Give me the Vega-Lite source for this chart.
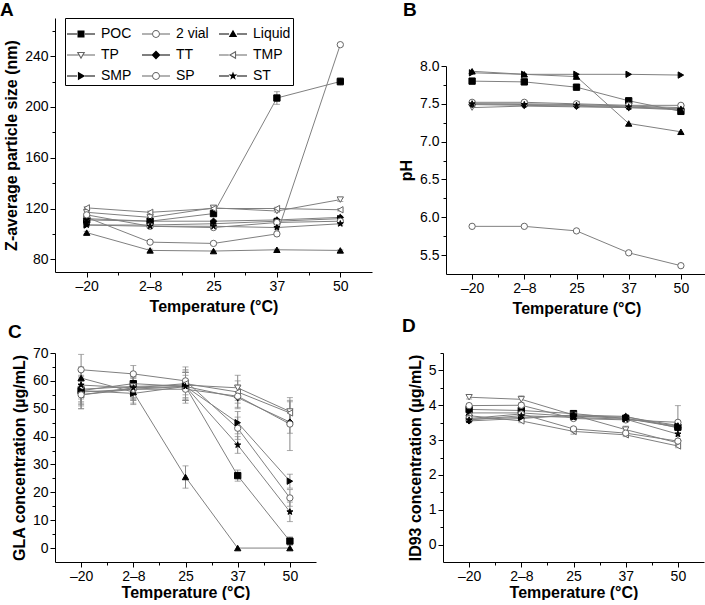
{
  "$schema": "https://vega.github.io/schema/vega-lite/v6.json",
  "padding": {"left": 0, "top": 0, "right": 0, "bottom": 0},
  "background": "white",
  "config": {
    "view": {"stroke": null},
    "font": "Liberation Sans",
    "axis": {"domainColor": "black", "tickColor": "black", "labelColor": "black", "titleColor": "black", "labelFontSize": 14, "titleFontSize": 16, "titleFontWeight": "bold", "grid": false, "labelFont": "Liberation Sans", "titleFont": "Liberation Sans", "domainWidth": 1, "tickWidth": 1, "labelFlush": false, "labelOverlap": false, "labelPadding": 2, "titlePadding": 5},
    "title": {"font": "Liberation Sans", "fontSize": 19, "fontWeight": "bold", "color": "black", "anchor": "start", "frame": "group", "baseline": "alphabetic"}
  },
  "datasets": {
    "d": [
      {"panel":"A","series":"POC","temp":"–20","value":111,"err":1},
      {"panel":"A","series":"POC","temp":"2–8","value":110,"err":1.5},
      {"panel":"A","series":"POC","temp":"25","value":116,"err":2},
      {"panel":"A","series":"POC","temp":"37","value":207,"err":5},
      {"panel":"A","series":"POC","temp":"50","value":220,"err":3},
      {"panel":"A","series":"2 vial","temp":"–20","value":113,"err":1},
      {"panel":"A","series":"2 vial","temp":"2–8","value":93.5,"err":1},
      {"panel":"A","series":"2 vial","temp":"25","value":92.5,"err":1},
      {"panel":"A","series":"2 vial","temp":"37","value":100,"err":1.5},
      {"panel":"A","series":"2 vial","temp":"50","value":249,"err":1},
      {"panel":"A","series":"Liquid","temp":"–20","value":101,"err":1},
      {"panel":"A","series":"Liquid","temp":"2–8","value":87,"err":1},
      {"panel":"A","series":"Liquid","temp":"25","value":86.5,"err":0.5},
      {"panel":"A","series":"Liquid","temp":"37","value":87.5,"err":0.5},
      {"panel":"A","series":"Liquid","temp":"50","value":87,"err":0.5},
      {"panel":"A","series":"TP","temp":"–20","value":117,"err":1},
      {"panel":"A","series":"TP","temp":"2–8","value":113,"err":1},
      {"panel":"A","series":"TP","temp":"25","value":120.5,"err":1},
      {"panel":"A","series":"TP","temp":"37","value":118,"err":1},
      {"panel":"A","series":"TP","temp":"50","value":127,"err":1.5},
      {"panel":"A","series":"TT","temp":"–20","value":112,"err":1},
      {"panel":"A","series":"TT","temp":"2–8","value":110,"err":1},
      {"panel":"A","series":"TT","temp":"25","value":110,"err":1},
      {"panel":"A","series":"TT","temp":"37","value":111,"err":1},
      {"panel":"A","series":"TT","temp":"50","value":113,"err":1},
      {"panel":"A","series":"TMP","temp":"–20","value":120.5,"err":1},
      {"panel":"A","series":"TMP","temp":"2–8","value":117,"err":1},
      {"panel":"A","series":"TMP","temp":"25","value":120,"err":1},
      {"panel":"A","series":"TMP","temp":"37","value":120,"err":1},
      {"panel":"A","series":"TMP","temp":"50","value":119,"err":1},
      {"panel":"A","series":"SMP","temp":"–20","value":107,"err":1},
      {"panel":"A","series":"SMP","temp":"2–8","value":107,"err":1},
      {"panel":"A","series":"SMP","temp":"25","value":108,"err":1},
      {"panel":"A","series":"SMP","temp":"37","value":110,"err":1},
      {"panel":"A","series":"SMP","temp":"50","value":112,"err":1},
      {"panel":"A","series":"SP","temp":"–20","value":115,"err":1},
      {"panel":"A","series":"SP","temp":"2–8","value":106,"err":1},
      {"panel":"A","series":"SP","temp":"25","value":105,"err":1},
      {"panel":"A","series":"SP","temp":"37","value":109,"err":1},
      {"panel":"A","series":"SP","temp":"50","value":110,"err":1},
      {"panel":"A","series":"ST","temp":"–20","value":107,"err":1},
      {"panel":"A","series":"ST","temp":"2–8","value":106,"err":1},
      {"panel":"A","series":"ST","temp":"25","value":106,"err":1},
      {"panel":"A","series":"ST","temp":"37","value":105,"err":1},
      {"panel":"A","series":"ST","temp":"50","value":108,"err":1},

      {"panel":"B","series":"POC","temp":"–20","value":7.80,"err":0},
      {"panel":"B","series":"POC","temp":"2–8","value":7.79,"err":0},
      {"panel":"B","series":"POC","temp":"25","value":7.72,"err":0},
      {"panel":"B","series":"POC","temp":"37","value":7.54,"err":0},
      {"panel":"B","series":"POC","temp":"50","value":7.40,"err":0},
      {"panel":"B","series":"2 vial","temp":"–20","value":5.88,"err":0},
      {"panel":"B","series":"2 vial","temp":"2–8","value":5.88,"err":0},
      {"panel":"B","series":"2 vial","temp":"25","value":5.82,"err":0},
      {"panel":"B","series":"2 vial","temp":"37","value":5.53,"err":0},
      {"panel":"B","series":"2 vial","temp":"50","value":5.36,"err":0},
      {"panel":"B","series":"Liquid","temp":"–20","value":7.93,"err":0},
      {"panel":"B","series":"Liquid","temp":"2–8","value":7.89,"err":0},
      {"panel":"B","series":"Liquid","temp":"25","value":7.86,"err":0},
      {"panel":"B","series":"Liquid","temp":"37","value":7.24,"err":0},
      {"panel":"B","series":"Liquid","temp":"50","value":7.13,"err":0},
      {"panel":"B","series":"TP","temp":"–20","value":7.45,"err":0},
      {"panel":"B","series":"TP","temp":"2–8","value":7.47,"err":0},
      {"panel":"B","series":"TP","temp":"25","value":7.46,"err":0},
      {"panel":"B","series":"TP","temp":"37","value":7.45,"err":0},
      {"panel":"B","series":"TP","temp":"50","value":7.44,"err":0},
      {"panel":"B","series":"TT","temp":"–20","value":7.49,"err":0},
      {"panel":"B","series":"TT","temp":"2–8","value":7.48,"err":0},
      {"panel":"B","series":"TT","temp":"25","value":7.47,"err":0},
      {"panel":"B","series":"TT","temp":"37","value":7.45,"err":0},
      {"panel":"B","series":"TT","temp":"50","value":7.42,"err":0},
      {"panel":"B","series":"TMP","temp":"–20","value":7.50,"err":0},
      {"panel":"B","series":"TMP","temp":"2–8","value":7.50,"err":0},
      {"panel":"B","series":"TMP","temp":"25","value":7.49,"err":0},
      {"panel":"B","series":"TMP","temp":"37","value":7.47,"err":0},
      {"panel":"B","series":"TMP","temp":"50","value":7.45,"err":0},
      {"panel":"B","series":"SMP","temp":"–20","value":7.91,"err":0},
      {"panel":"B","series":"SMP","temp":"2–8","value":7.89,"err":0},
      {"panel":"B","series":"SMP","temp":"25","value":7.89,"err":0},
      {"panel":"B","series":"SMP","temp":"37","value":7.89,"err":0},
      {"panel":"B","series":"SMP","temp":"50","value":7.88,"err":0},
      {"panel":"B","series":"SP","temp":"–20","value":7.52,"err":0},
      {"panel":"B","series":"SP","temp":"2–8","value":7.52,"err":0},
      {"panel":"B","series":"SP","temp":"25","value":7.50,"err":0},
      {"panel":"B","series":"SP","temp":"37","value":7.48,"err":0},
      {"panel":"B","series":"SP","temp":"50","value":7.48,"err":0},
      {"panel":"B","series":"ST","temp":"–20","value":7.50,"err":0},
      {"panel":"B","series":"ST","temp":"2–8","value":7.49,"err":0},
      {"panel":"B","series":"ST","temp":"25","value":7.48,"err":0},
      {"panel":"B","series":"ST","temp":"37","value":7.46,"err":0},
      {"panel":"B","series":"ST","temp":"50","value":7.43,"err":0},

      {"panel":"C","series":"POC","temp":"–20","value":56.5,"err":4},
      {"panel":"C","series":"POC","temp":"2–8","value":59,"err":4},
      {"panel":"C","series":"POC","temp":"25","value":58,"err":5},
      {"panel":"C","series":"POC","temp":"37","value":26,"err":2},
      {"panel":"C","series":"POC","temp":"50","value":2.5,"err":1.5},
      {"panel":"C","series":"2 vial","temp":"–20","value":64,"err":5.5},
      {"panel":"C","series":"2 vial","temp":"2–8","value":62.5,"err":3},
      {"panel":"C","series":"2 vial","temp":"25","value":60,"err":5},
      {"panel":"C","series":"2 vial","temp":"37","value":43,"err":4},
      {"panel":"C","series":"2 vial","temp":"50","value":18,"err":3},
      {"panel":"C","series":"Liquid","temp":"–20","value":61,"err":4},
      {"panel":"C","series":"Liquid","temp":"2–8","value":56,"err":4},
      {"panel":"C","series":"Liquid","temp":"25","value":25.5,"err":4},
      {"panel":"C","series":"Liquid","temp":"37","value":0,"err":0},
      {"panel":"C","series":"Liquid","temp":"50","value":0,"err":0},
      {"panel":"C","series":"TP","temp":"–20","value":57,"err":5},
      {"panel":"C","series":"TP","temp":"2–8","value":58,"err":4},
      {"panel":"C","series":"TP","temp":"25","value":58.5,"err":5},
      {"panel":"C","series":"TP","temp":"37","value":57.5,"err":4.5},
      {"panel":"C","series":"TP","temp":"50","value":49,"err":4},
      {"panel":"C","series":"TT","temp":"–20","value":56,"err":5},
      {"panel":"C","series":"TT","temp":"2–8","value":57,"err":4},
      {"panel":"C","series":"TT","temp":"25","value":58,"err":5},
      {"panel":"C","series":"TT","temp":"37","value":54,"err":4},
      {"panel":"C","series":"TT","temp":"50","value":45.2,"err":4},
      {"panel":"C","series":"TMP","temp":"–20","value":55,"err":5},
      {"panel":"C","series":"TMP","temp":"2–8","value":57.5,"err":4},
      {"panel":"C","series":"TMP","temp":"25","value":59,"err":5},
      {"panel":"C","series":"TMP","temp":"37","value":56,"err":4},
      {"panel":"C","series":"TMP","temp":"50","value":48.5,"err":4},
      {"panel":"C","series":"SMP","temp":"–20","value":56.5,"err":5},
      {"panel":"C","series":"SMP","temp":"2–8","value":55.5,"err":4},
      {"panel":"C","series":"SMP","temp":"25","value":58,"err":5},
      {"panel":"C","series":"SMP","temp":"37","value":45,"err":4},
      {"panel":"C","series":"SMP","temp":"50","value":24,"err":2.5},
      {"panel":"C","series":"SP","temp":"–20","value":55,"err":5},
      {"panel":"C","series":"SP","temp":"2–8","value":57,"err":4},
      {"panel":"C","series":"SP","temp":"25","value":57,"err":5},
      {"panel":"C","series":"SP","temp":"37","value":54.5,"err":4},
      {"panel":"C","series":"SP","temp":"50","value":44.5,"err":9.5},
      {"panel":"C","series":"ST","temp":"–20","value":58.5,"err":5},
      {"panel":"C","series":"ST","temp":"2–8","value":57.5,"err":4},
      {"panel":"C","series":"ST","temp":"25","value":58,"err":5},
      {"panel":"C","series":"ST","temp":"37","value":37,"err":3},
      {"panel":"C","series":"ST","temp":"50","value":13,"err":3.5},

      {"panel":"D","series":"POC","temp":"–20","value":3.88,"err":0.05},
      {"panel":"D","series":"POC","temp":"2–8","value":3.85,"err":0.05},
      {"panel":"D","series":"POC","temp":"25","value":3.76,"err":0.08},
      {"panel":"D","series":"POC","temp":"37","value":3.62,"err":0.05},
      {"panel":"D","series":"POC","temp":"50","value":3.37,"err":0.08},
      {"panel":"D","series":"2 vial","temp":"–20","value":3.99,"err":0.05},
      {"panel":"D","series":"2 vial","temp":"2–8","value":4.0,"err":0.05},
      {"panel":"D","series":"2 vial","temp":"25","value":3.62,"err":0.05},
      {"panel":"D","series":"2 vial","temp":"37","value":3.58,"err":0.05},
      {"panel":"D","series":"2 vial","temp":"50","value":3.51,"err":0.48},
      {"panel":"D","series":"Liquid","temp":"–20","value":3.78,"err":0.05},
      {"panel":"D","series":"Liquid","temp":"2–8","value":3.78,"err":0.05},
      {"panel":"D","series":"Liquid","temp":"25","value":3.68,"err":0.05},
      {"panel":"D","series":"Liquid","temp":"37","value":3.66,"err":0.05},
      {"panel":"D","series":"Liquid","temp":"50","value":3.42,"err":0.05},
      {"panel":"D","series":"TP","temp":"–20","value":4.23,"err":0.05},
      {"panel":"D","series":"TP","temp":"2–8","value":4.17,"err":0.1},
      {"panel":"D","series":"TP","temp":"25","value":3.72,"err":0.05},
      {"panel":"D","series":"TP","temp":"37","value":3.30,"err":0.1},
      {"panel":"D","series":"TP","temp":"50","value":2.92,"err":0.05},
      {"panel":"D","series":"TT","temp":"–20","value":3.55,"err":0.05},
      {"panel":"D","series":"TT","temp":"2–8","value":3.62,"err":0.05},
      {"panel":"D","series":"TT","temp":"25","value":3.72,"err":0.05},
      {"panel":"D","series":"TT","temp":"37","value":3.68,"err":0.05},
      {"panel":"D","series":"TT","temp":"50","value":3.35,"err":0.05},
      {"panel":"D","series":"TMP","temp":"–20","value":3.70,"err":0.05},
      {"panel":"D","series":"TMP","temp":"2–8","value":3.55,"err":0.05},
      {"panel":"D","series":"TMP","temp":"25","value":3.25,"err":0.08},
      {"panel":"D","series":"TMP","temp":"37","value":3.15,"err":0.05},
      {"panel":"D","series":"TMP","temp":"50","value":2.83,"err":0.05},
      {"panel":"D","series":"SMP","temp":"–20","value":3.60,"err":0.05},
      {"panel":"D","series":"SMP","temp":"2–8","value":3.65,"err":0.05},
      {"panel":"D","series":"SMP","temp":"25","value":3.70,"err":0.05},
      {"panel":"D","series":"SMP","temp":"37","value":3.62,"err":0.05},
      {"panel":"D","series":"SMP","temp":"50","value":3.40,"err":0.05},
      {"panel":"D","series":"SP","temp":"–20","value":3.62,"err":0.05},
      {"panel":"D","series":"SP","temp":"2–8","value":3.75,"err":0.05},
      {"panel":"D","series":"SP","temp":"25","value":3.32,"err":0.05},
      {"panel":"D","series":"SP","temp":"37","value":3.20,"err":0.05},
      {"panel":"D","series":"SP","temp":"50","value":2.97,"err":0.05},
      {"panel":"D","series":"ST","temp":"–20","value":3.58,"err":0.05},
      {"panel":"D","series":"ST","temp":"2–8","value":3.70,"err":0.05},
      {"panel":"D","series":"ST","temp":"25","value":3.65,"err":0.05},
      {"panel":"D","series":"ST","temp":"37","value":3.60,"err":0.05},
      {"panel":"D","series":"ST","temp":"50","value":3.17,"err":0.05}
    ]
  },
  "resolve": {"scale": {"shape": "independent", "fill": "independent", "stroke": "independent"}},
  "align": "none",
  "spacing": 1,
  "vconcat": [
    {
      "spacing": 26,
      "resolve": {"scale": {"shape": "independent", "fill": "independent", "stroke": "independent"}},
      "hconcat": [
        {
          "width": 317, "height": 254,
          "title": {"text": "A", "dx": -55, "offset": -2},
          "data": {"name": "d"},
          "transform": [{"filter": "datum.panel === 'A'"}, {"calculate": "indexof(['–20','2–8','25','37','50'], datum.temp)", "as": "ti"}],
          "resolve": {"scale": {"shape": "independent", "fill": "independent"}},
          "encoding": {
            "x": {"field": "ti", "type": "quantitative", "scale": {"domain": [-0.5, 4.5], "nice": false, "zero": false}, "axis": {"title": "Temperature (°C)", "values": [0,0.5,1,1.5,2,2.5,3,3.5,4], "labelExpr": "datum.value % 1 === 0 ? ['–20','2–8','25','37','50'][datum.value] : ''", "tickSize": {"condition": {"test": "datum.value % 1 !== 0", "value": 3}, "value": 5}}},
            "y": {"field": "value", "type": "quantitative", "scale": {"domain": [70, 270], "nice": false, "zero": false}, "axis": {"title": "Z-average particle size (nm)", "values": [80,100,120,140,160,180,200,220,240,260], "labelExpr": "datum.value % 40 === 0 ? datum.label : ''", "tickSize": {"condition": {"test": "datum.value % 40 !== 0", "value": 3}, "value": 5}}}
          },
          "layer": [
            {"transform": [{"filter": "datum.err > 0"}], "mark": {"type": "errorbar", "ticks": {"size": 6}, "color": "#888", "thickness": 1}, "encoding": {"yError": {"field": "err"}}},
            {"mark": {"type": "line", "color": "#808080", "strokeWidth": 1}, "encoding": {"detail": {"field": "series"}}},
            {"mark": {"type": "point", "filled": true, "size": 40, "strokeWidth": 1, "opacity": 1},
             "encoding": {
               "shape": {"field": "series", "type": "nominal", "scale": {"domain": ["POC","2 vial","Liquid","TP","TT","TMP","SMP","SP","ST"], "range": ["square","circle","triangle-up","triangle-down","diamond","triangle-left","triangle-right","circle","M0,-1L0.235,-0.324L0.951,-0.309L0.38,0.124L0.588,0.809L0,0.4L-0.588,0.809L-0.38,0.124L-0.951,-0.309L-0.235,-0.324Z"]}, "legend": null},
               "fill": {"field": "series", "type": "nominal", "scale": {"domain": ["POC","2 vial","Liquid","TP","TT","TMP","SMP","SP","ST"], "range": ["black","white","black","white","black","white","black","white","black"]}, "legend": null},
               "stroke": {"field": "series", "type": "nominal", "scale": {"domain": ["POC","2 vial","Liquid","TP","TT","TMP","SMP","SP","ST"], "range": ["black","#666","black","#666","black","#666","black","#666","black"]}, "legend": null}
             }},
            {"mark": {"type": "point", "filled": true, "size": 40, "opacity": 0, "strokeWidth": 0},
             "encoding": {
               "shape": {"field": "series", "type": "nominal", "scale": {"domain": ["POC","2 vial","Liquid","TP","TT","TMP","SMP","SP","ST"], "range": [
                 "M-1,-0.036L-0.28,-0.036L-0.28,0.036L-1,0.036ZM0.28,-0.036L1,-0.036L1,0.036L0.28,0.036ZM-0.25,-0.25L0.25,-0.25L0.25,0.25L-0.25,0.25Z",
                 "M-1,-0.036L-0.28,-0.036L-0.28,0.036L-1,0.036ZM0.28,-0.036L1,-0.036L1,0.036L0.28,0.036ZM-0.28,0A0.28,0.28,0,1,0,0.28,0A0.28,0.28,0,1,0,-0.28,0ZM-0.21,0A0.21,0.21,0,1,1,0.21,0A0.21,0.21,0,1,1,-0.21,0Z",
                 "M-1,-0.036L-0.28,-0.036L-0.28,0.036L-1,0.036ZM0.28,-0.036L1,-0.036L1,0.036L0.28,0.036ZM0,-0.3L0.3,0.22L-0.3,0.22Z",
                 "M-1,-0.036L-1,0.036L-0.175,0.036L-0.175,-0.036ZM0.175,-0.036L0.175,0.036L1,0.036L1,-0.036ZM0,0.3L0.3,-0.22L-0.3,-0.22ZM0,0.144L-0.165,-0.142L0.165,-0.142Z",
                 "M-1,-0.036L-0.28,-0.036L-0.28,0.036L-1,0.036ZM0.28,-0.036L1,-0.036L1,0.036L0.28,0.036ZM0,-0.32L0.32,0L0,0.32L-0.32,0Z",
                 "M-1,-0.036L-0.3,-0.036L-0.3,0.036L-1,0.036ZM0.22,-0.036L1,-0.036L1,0.036L0.22,0.036ZM-0.3,0L0.22,-0.3L0.22,0.3ZM-0.144,0L0.142,0.165L0.142,-0.165Z",
                 "M-1,-0.036L-0.28,-0.036L-0.28,0.036L-1,0.036ZM0.28,-0.036L1,-0.036L1,0.036L0.28,0.036ZM0.3,0L-0.22,-0.3L-0.22,0.3Z",
                 "M-1,-0.036L-0.28,-0.036L-0.28,0.036L-1,0.036ZM0.28,-0.036L1,-0.036L1,0.036L0.28,0.036ZM-0.28,0A0.28,0.28,0,1,0,0.28,0A0.28,0.28,0,1,0,-0.28,0ZM-0.21,0A0.21,0.21,0,1,1,0.21,0A0.21,0.21,0,1,1,-0.21,0Z",
                 "M-1,-0.036L-0.28,-0.036L-0.28,0.036L-1,0.036ZM0.28,-0.036L1,-0.036L1,0.036L0.28,0.036ZM0,-0.33L0.078,-0.107L0.314,-0.102L0.125,0.041L0.194,0.267L0,0.132L-0.194,0.267L-0.125,0.041L-0.314,-0.102L-0.078,-0.107Z"]},
                 "legend": {"title": null, "orient": "none", "legendX": 10, "legendY": 0, "columns": 3, "direction": "horizontal", "strokeColor": "black", "fillColor": "white", "padding": 2, "symbolSize": 784, "labelFontSize": 14, "labelFont": "Liberation Sans", "labelColor": "black", "columnPadding": 10, "rowPadding": 0, "labelOffset": 6, "symbolStrokeWidth": 0, "symbolOpacity": 1}},
               "fill": {"field": "series", "type": "nominal", "scale": {"domain": ["POC","2 vial","Liquid","TP","TT","TMP","SMP","SP","ST"], "range": ["black","#666","black","#666","black","#666","black","#666","black"]},
                 "legend": {"title": null, "orient": "none", "legendX": 10, "legendY": 0, "columns": 3, "direction": "horizontal", "strokeColor": "black", "fillColor": "white", "padding": 2, "symbolSize": 784, "labelFontSize": 14, "labelFont": "Liberation Sans", "labelColor": "black", "columnPadding": 10, "rowPadding": 0, "labelOffset": 6, "symbolStrokeWidth": 0, "symbolOpacity": 1}}
             }}
          ]
        },
        {
          "width": 261, "height": 256,
          "title": {"text": "B", "dx": -43, "offset": -2},
          "data": {"name": "d"},
          "transform": [{"filter": "datum.panel === 'B'"}, {"calculate": "indexof(['–20','2–8','25','37','50'], datum.temp)", "as": "ti"}],
          "encoding": {
            "x": {"field": "ti", "type": "quantitative", "scale": {"domain": [-0.5, 4.5], "nice": false, "zero": false}, "axis": {"title": "Temperature (°C)", "values": [0,0.5,1,1.5,2,2.5,3,3.5,4], "labelExpr": "datum.value % 1 === 0 ? ['–20','2–8','25','37','50'][datum.value] : ''", "tickSize": {"condition": {"test": "datum.value % 1 !== 0", "value": 3}, "value": 5}}},
            "y": {"field": "value", "type": "quantitative", "scale": {"domain": [5.25, 8.0], "range": [256, 48], "nice": false, "zero": false}, "axis": {"title": "pH", "values": [5.5,5.75,6,6.25,6.5,6.75,7,7.25,7.5,7.75,8], "labelExpr": "datum.value % 0.5 === 0 ? format(datum.value, '.1f') : ''", "tickSize": {"condition": {"test": "datum.value % 0.5 !== 0", "value": 3}, "value": 5}}}
          },
          "layer": [
            {"mark": {"type": "line", "color": "#808080", "strokeWidth": 1}, "encoding": {"detail": {"field": "series"}}},
            {"mark": {"type": "point", "filled": true, "size": 40, "strokeWidth": 1, "opacity": 1},
             "encoding": {
               "shape": {"field": "series", "type": "nominal", "scale": {"domain": ["POC","2 vial","Liquid","TP","TT","TMP","SMP","SP","ST"], "range": ["square","circle","triangle-up","triangle-down","diamond","triangle-left","triangle-right","circle","M0,-1L0.235,-0.324L0.951,-0.309L0.38,0.124L0.588,0.809L0,0.4L-0.588,0.809L-0.38,0.124L-0.951,-0.309L-0.235,-0.324Z"]}, "legend": null},
               "fill": {"field": "series", "type": "nominal", "scale": {"domain": ["POC","2 vial","Liquid","TP","TT","TMP","SMP","SP","ST"], "range": ["black","white","black","white","black","white","black","white","black"]}, "legend": null},
               "stroke": {"field": "series", "type": "nominal", "scale": {"domain": ["POC","2 vial","Liquid","TP","TT","TMP","SMP","SP","ST"], "range": ["black","#666","black","#666","black","#666","black","#666","black"]}, "legend": null}
             }}
          ]
        }
      ]
    },
    {
      "spacing": 86,
      "resolve": {"scale": {"shape": "independent", "fill": "independent", "stroke": "independent"}},
      "hconcat": [
        {
          "width": 261, "height": 209,
          "title": {"text": "C", "dx": -47, "offset": 4},
          "data": {"name": "d"},
          "transform": [{"filter": "datum.panel === 'C'"}, {"calculate": "indexof(['–20','2–8','25','37','50'], datum.temp)", "as": "ti"}],
          "encoding": {
            "x": {"field": "ti", "type": "quantitative", "scale": {"domain": [-0.5, 4.5], "nice": false, "zero": false}, "axis": {"title": "Temperature (°C)", "titlePadding": 1, "values": [0,0.5,1,1.5,2,2.5,3,3.5,4], "labelExpr": "datum.value % 1 === 0 ? ['–20','2–8','25','37','50'][datum.value] : ''", "tickSize": {"condition": {"test": "datum.value % 1 !== 0", "value": 3}, "value": 5}}},
            "y": {"field": "value", "type": "quantitative", "scale": {"domain": [-5, 70], "nice": false, "zero": false}, "axis": {"title": "GLA concentration (µg/mL)", "values": [0,5,10,15,20,25,30,35,40,45,50,55,60,65,70], "labelExpr": "datum.value % 10 === 0 ? datum.label : ''", "tickSize": {"condition": {"test": "datum.value % 10 !== 0", "value": 3}, "value": 5}}}
          },
          "layer": [
            {"transform": [{"filter": "datum.err > 0"}], "mark": {"type": "errorbar", "ticks": {"size": 6}, "color": "#888", "thickness": 1}, "encoding": {"yError": {"field": "err"}}},
            {"mark": {"type": "line", "color": "#808080", "strokeWidth": 1}, "encoding": {"detail": {"field": "series"}}},
            {"mark": {"type": "point", "filled": true, "size": 40, "strokeWidth": 1, "opacity": 1},
             "encoding": {
               "shape": {"field": "series", "type": "nominal", "scale": {"domain": ["POC","2 vial","Liquid","TP","TT","TMP","SMP","SP","ST"], "range": ["square","circle","triangle-up","triangle-down","diamond","triangle-left","triangle-right","circle","M0,-1L0.235,-0.324L0.951,-0.309L0.38,0.124L0.588,0.809L0,0.4L-0.588,0.809L-0.38,0.124L-0.951,-0.309L-0.235,-0.324Z"]}, "legend": null},
               "fill": {"field": "series", "type": "nominal", "scale": {"domain": ["POC","2 vial","Liquid","TP","TT","TMP","SMP","SP","ST"], "range": ["black","white","black","white","black","white","black","white","black"]}, "legend": null},
               "stroke": {"field": "series", "type": "nominal", "scale": {"domain": ["POC","2 vial","Liquid","TP","TT","TMP","SMP","SP","ST"], "range": ["black","#666","black","#666","black","#666","black","#666","black"]}, "legend": null}
             }}
          ]
        },
        {
          "width": 261, "height": 209,
          "title": {"text": "D", "dx": -41, "offset": 10},
          "data": {"name": "d"},
          "transform": [{"filter": "datum.panel === 'D'"}, {"calculate": "indexof(['–20','2–8','25','37','50'], datum.temp)", "as": "ti"}],
          "encoding": {
            "x": {"field": "ti", "type": "quantitative", "scale": {"domain": [-0.5, 4.5], "nice": false, "zero": false}, "axis": {"title": "Temperature (°C)", "titlePadding": 1, "values": [0,0.5,1,1.5,2,2.5,3,3.5,4], "labelExpr": "datum.value % 1 === 0 ? ['–20','2–8','25','37','50'][datum.value] : ''", "tickSize": {"condition": {"test": "datum.value % 1 !== 0", "value": 3}, "value": 5}}},
            "y": {"field": "value", "type": "quantitative", "scale": {"domain": [-0.5, 5.5], "nice": false, "zero": false}, "axis": {"title": "ID93 concentration (µg/mL)", "values": [0,0.5,1,1.5,2,2.5,3,3.5,4,4.5,5,5.5], "labelExpr": "datum.value % 1 === 0 ? format(datum.value, '.0f') : ''", "tickSize": {"condition": {"test": "datum.value % 1 !== 0", "value": 3}, "value": 5}}}
          },
          "layer": [
            {"transform": [{"filter": "datum.err > 0"}], "mark": {"type": "errorbar", "ticks": {"size": 6}, "color": "#888", "thickness": 1}, "encoding": {"yError": {"field": "err"}}},
            {"mark": {"type": "line", "color": "#808080", "strokeWidth": 1}, "encoding": {"detail": {"field": "series"}}},
            {"mark": {"type": "point", "filled": true, "size": 40, "strokeWidth": 1, "opacity": 1},
             "encoding": {
               "shape": {"field": "series", "type": "nominal", "scale": {"domain": ["POC","2 vial","Liquid","TP","TT","TMP","SMP","SP","ST"], "range": ["square","circle","triangle-up","triangle-down","diamond","triangle-left","triangle-right","circle","M0,-1L0.235,-0.324L0.951,-0.309L0.38,0.124L0.588,0.809L0,0.4L-0.588,0.809L-0.38,0.124L-0.951,-0.309L-0.235,-0.324Z"]}, "legend": null},
               "fill": {"field": "series", "type": "nominal", "scale": {"domain": ["POC","2 vial","Liquid","TP","TT","TMP","SMP","SP","ST"], "range": ["black","white","black","white","black","white","black","white","black"]}, "legend": null},
               "stroke": {"field": "series", "type": "nominal", "scale": {"domain": ["POC","2 vial","Liquid","TP","TT","TMP","SMP","SP","ST"], "range": ["black","#666","black","#666","black","#666","black","#666","black"]}, "legend": null}
             }}
          ]
        }
      ]
    }
  ]
}
